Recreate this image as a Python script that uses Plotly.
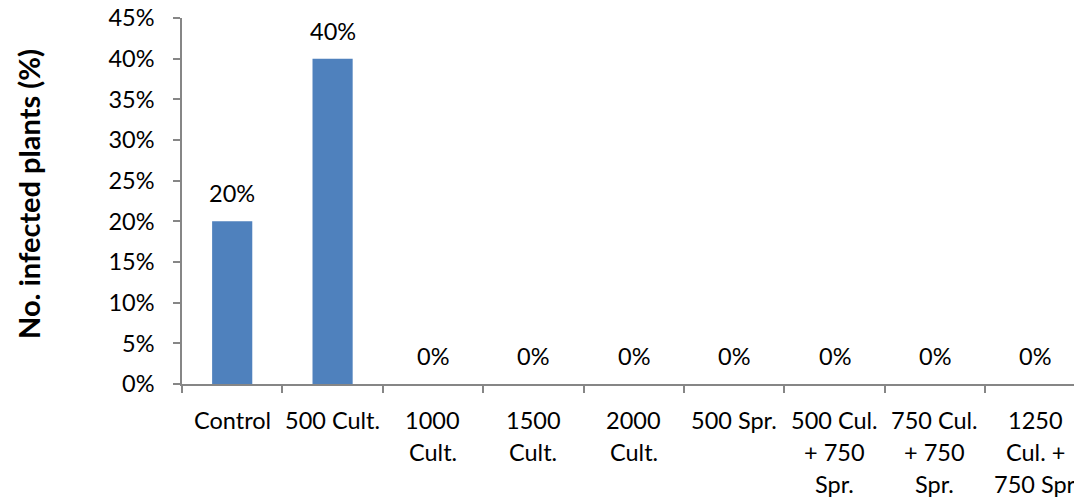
import plotly.graph_objects as go

categories = ["Control", "500 Cult.", "1000 Cult.", "1500 Cult.", "2000 Cult.",
              "500 Spr.", "500 Cul. + 750 Spr.", "750 Cul. + 750 Spr.", "1250 Cul. + 750 Spr"]
tick_labels = ["Control", "500 Cult.", "1000<br>Cult.", "1500<br>Cult.", "2000<br>Cult.",
               "500 Spr.", "500 Cul.<br>+ 750<br>Spr.", "750 Cul.<br>+ 750<br>Spr.",
               "1250<br>Cul. +<br>750 Spr"]
infected_pct = [20, 40, 0, 0, 0, 0, 0, 0, 0]
y_ticks = [0, 5, 10, 15, 20, 25, 30, 35, 40, 45]

FONT = "Lato"
FS = 23.5
AXIS_COLOR = "#868686"

fig = go.Figure()
fig.add_trace(go.Bar(
    x=categories, y=infected_pct, width=0.4,
    marker=dict(color="#4F81BD", line=dict(width=0)),
    hoverinfo="skip",
))

annotations = []
# data labels
for c, v in zip(categories, infected_pct):
    annotations.append(dict(x=c, y=v, xref="x", yref="y", text=f"{v}%",
                            showarrow=False, yanchor="bottom", yshift=12,
                            font=dict(family=FONT, size=FS, color="black")))
# category labels (multi-line with custom spacing)
for c, lab in zip(categories, tick_labels):
    for i, line in enumerate(lab.split("<br>")):
        annotations.append(dict(x=c, y=0, xref="x", yref="paper", text=line,
                                showarrow=False, yanchor="middle", yshift=-36 - 32 * i,
                                font=dict(family=FONT, size=FS, color="black")))
# y-axis title
annotations.append(dict(x=0, y=0.5, xref="paper", yref="paper",
                        text="<b>No. infected plants (%)</b>", textangle=-90,
                        showarrow=False, xshift=-154, yshift=7, xanchor="center", yanchor="middle",
                        font=dict(family=FONT, size=29, color="black")))

fig.update_layout(
    width=1074, height=498,
    margin=dict(l=182, r=0, t=18, b=114, autoexpand=False),
    paper_bgcolor="white", plot_bgcolor="white",
    showlegend=False,
    font=dict(family=FONT, size=FS, color="black"),
    annotations=annotations,
    xaxis=dict(
        type="category", range=[-0.5, 8.385],
        showgrid=False, zeroline=False,
        showline=True, linecolor=AXIS_COLOR, linewidth=1.5,
        ticks="outside", tickson="boundaries", ticklen=7, tickcolor=AXIS_COLOR, tickwidth=1.5,
        showticklabels=False,
    ),
    yaxis=dict(
        range=[0, 45], tickvals=y_ticks, ticktext=[f"{t}%" for t in y_ticks],
        showgrid=False, zeroline=False,
        showline=True, linecolor=AXIS_COLOR, linewidth=1.5,
        ticks="outside", ticklen=7, tickcolor=AXIS_COLOR, tickwidth=1.5,
        ticklabelstandoff=14,
        tickfont=dict(family=FONT, size=FS, color="black"),
    ),
)

fig.write_html("out.html")
